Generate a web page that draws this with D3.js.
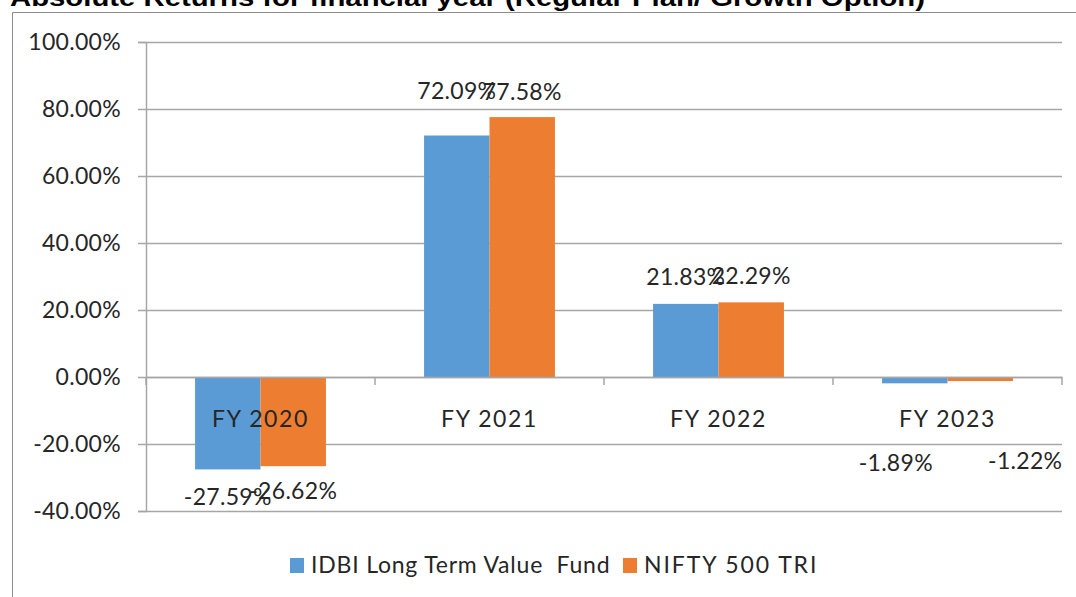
<!DOCTYPE html>
<html>
<head>
<meta charset="utf-8">
<script src="https://cdn.jsdelivr.net/npm/d3@7"></script>
<style>
  body { margin: 0; background: #fff; }
  svg text { font-family: Lato, "Open Sans", sans-serif; fill: #262626; }
</style>
</head>
<body>
<div id="chart"></div>
<script>
// chart data
const categories = ["FY 2020", "FY 2021", "FY 2022", "FY 2023"];
const seriesNames = ["IDBI Long Term Value  Fund", "NIFTY 500 TRI"];
const fundReturns = [-27.59, 72.09, 21.83, -1.89];
const indexReturns = [-26.62, 77.58, 22.29, -1.22];
const yTicks = [-40, -20, 0, 20, 40, 60, 80, 100];
const titleText = "Absolute Returns for financial year (Regular Plan/ Growth Option)";

// where Excel happened to drop the value labels (px, relative to bar end)
const labelDy = [[36, 33], [-36, -17], [-19, -18], [88, 88]];
const labelDx = [[0, 0], [0, 0], [0, 0], [-19, 45]];

const colors = ["#5B9BD5", "#ED7D31"];
const width = 1076, height = 597;
const margin = { top: 42, bottom: 86, left: 146, right: 14 };

// plain hyphen for negatives, like the original
const pct = d3.formatLocale({ decimal: ".", thousands: ",", grouping: [3], currency: ["", ""], minus: "-" })
  .format(".2f");

const svg = d3.select("#chart").append("svg")
  .attr("width", width)
  .attr("height", height);

// outer frame (only top + left edges show)
svg.append("path")
  .attr("d", `M12.5,${height}V12.5H${width}`)
  .attr("fill", "none")
  .attr("stroke", "#8c8c8c")
  .attr("stroke-width", 1);

svg.append("text")
  .attr("x", 10)
  .attr("y", 6)
  .attr("textLength", 915)
  .attr("lengthAdjust", "spacingAndGlyphs")
  .style("font-family", "'Liberation Sans', Arial, sans-serif")
  .style("font-weight", "bold")
  .style("font-size", "23px")
  .style("fill", "#000")
  .text(titleText);

const yScale = d3.scaleLinear()
  .domain([-40, 100])
  .range([height - margin.bottom, margin.top]);

const xScale = d3.scaleBand()
  .domain(categories)
  .range([margin.left, width - margin.right]);

const xInner = d3.scaleBand()
  .domain(seriesNames)
  .range([0, xScale.bandwidth()])
  .paddingInner(0)
  .paddingOuter(0.75);

// gridlines + y axis
const yAxis = d3.axisLeft(yScale)
  .tickValues(yTicks)
  .tickSize(8)
  .tickPadding(17)
  .tickFormat(d => pct(d) + "%");

svg.append("g")
  .attr("class", "grid")
  .selectAll("line")
  .data(yTicks)
  .join("line")
  .attr("x1", margin.left)
  .attr("x2", width - margin.right)
  .attr("y1", d => Math.round(yScale(d)) + 0.5)
  .attr("y2", d => Math.round(yScale(d)) + 0.5)
  .attr("stroke", "#a6a6a6")
  .attr("stroke-width", 1.5);

const yG = svg.append("g")
  .attr("transform", `translate(${margin.left},0)`)
  .call(yAxis);
yG.selectAll("path, line").attr("stroke", "#a6a6a6").attr("stroke-width", 1.5);
yG.selectAll("text")
  .style("font-size", "23px")
  .style("font-family", "Lato, sans-serif")
  .style("letter-spacing", "0.3px")
  .attr("fill", "#262626");

// bars
const rows = categories.map((c, i) => ({ cat: c, i, values: [fundReturns[i], indexReturns[i]] }));

const groups = svg.append("g")
  .selectAll("g")
  .data(rows)
  .join("g")
  .attr("transform", d => `translate(${xScale(d.cat)},0)`);

groups.selectAll("rect")
  .data(d => d.values.map((v, k) => ({ v, k, name: seriesNames[k] })))
  .join("rect")
  .attr("x", d => xInner(d.name))
  .attr("width", xInner.bandwidth())
  .attr("y", d => yScale(Math.max(0, d.v)))
  .attr("height", d => Math.abs(yScale(d.v) - yScale(0)))
  .attr("fill", d => colors[d.k]);

// x axis on the zero line, labels just below it
const xAxis = d3.axisBottom(xScale).tickSize(0).tickPadding(34);
const xG = svg.append("g")
  .attr("transform", `translate(0,${yScale(0)})`)
  .call(xAxis);
xG.select(".domain").attr("stroke", "#a6a6a6").attr("stroke-width", 1.5);
xG.selectAll("text")
  .style("font-size", "23px")
  .style("font-family", "Lato, sans-serif")
  .style("letter-spacing", "1.6px")
  .attr("fill", "#262626");

// category separators
const bounds = categories.map(c => xScale(c)).concat([xScale.range()[1]]);
xG.selectAll(".sep")
  .data(bounds)
  .join("line")
  .attr("class", "sep")
  .attr("x1", d => d)
  .attr("x2", d => d)
  .attr("y1", 0)
  .attr("y2", 8)
  .attr("stroke", "#a6a6a6")
  .attr("stroke-width", 1.5);

// value labels
groups.selectAll("text.val")
  .data(d => d.values.map((v, k) => ({ v, k, name: seriesNames[k], i: d.i })))
  .join("text")
  .attr("class", "val")
  .attr("text-anchor", "middle")
  .attr("x", d => xInner(d.name) + xInner.bandwidth() / 2 + labelDx[d.i][d.k])
  .attr("y", d => yScale(d.v) + labelDy[d.i][d.k])
  .style("font-size", "23px")
  .style("letter-spacing", "0.3px")
  .text(d => pct(d.v) + "%");

// legend
const legendItems = [
  { name: seriesNames[0], x: 290, spacing: "0.8px" },
  { name: seriesNames[1], x: 623, spacing: "1.9px" }
];
const legend = svg.append("g").attr("transform", "translate(0,565)");
legendItems.forEach((d, k) => {
  legend.append("rect")
    .attr("x", d.x).attr("y", -7)
    .attr("width", 14).attr("height", 15)
    .attr("fill", colors[k]);
  legend.append("text")
    .attr("x", d.x + 21).attr("y", 8)
    .style("font-size", "23px")
    .style("letter-spacing", d.spacing)
    .style("white-space", "pre")
    .attr("xml:space", "preserve")
    .text(d.name);
});
</script>
</body>
</html>
